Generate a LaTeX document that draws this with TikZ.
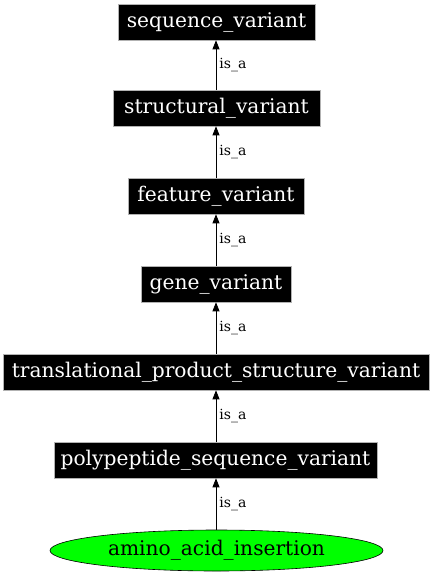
\documentclass[tikz,border=0pt]{standalone}
\usepackage{fontspec}
\setmainfont{DejaVu Serif}
\usetikzlibrary{arrows.meta,shapes.geometric}
\begin{document}
\begin{tikzpicture}[x=1pt,y=-1pt,
  termbox/.style={fill=black,draw=gray!60,line width=0.6pt,text=white,inner sep=0pt,minimum height=36pt,font=\fontsize{20.2}{22}\selectfont},
  leaf/.style={ellipse,fill=green,draw=black,line width=0.6pt,inner sep=0pt,minimum width=333pt,minimum height=41pt,font=\fontsize{20.2}{22}\selectfont},
  isa/.style={-{Triangle[length=9pt,width=7pt]},line width=0.7pt},
  lbl/.style={right,font=\fontsize{14}{16}\selectfont,inner sep=3pt}]
\useasboundingbox (0,0) rectangle (432,576);
\node[termbox,minimum width=197pt] (sv) at (216.5,22) {sequence\_variant};
\node[termbox,minimum width=207pt] (stv) at (216.5,108) {structural\_variant};
\node[termbox,minimum width=176pt] (fv) at (216,196) {feature\_variant};
\node[termbox,minimum width=150pt] (gv) at (216,284) {gene\_variant};
\node[termbox,minimum width=426pt] (tpsv) at (216,372) {translational\_product\_structure\_variant};
\node[termbox,minimum width=323pt] (psv) at (215.5,460) {polypeptide\_sequence\_variant};
\node[leaf] (aai) at (216.5,550.5) {amino\_acid\_insertion};
\draw[isa] (stv.north -| 216,0) -- node[lbl]{is\_a} (sv.south -| 216,0);
\draw[isa] (fv.north -| 216,0) -- node[lbl]{is\_a} (stv.south -| 216,0);
\draw[isa] (gv.north -| 216,0) -- node[lbl]{is\_a} (fv.south -| 216,0);
\draw[isa] (tpsv.north -| 216,0) -- node[lbl]{is\_a} (gv.south -| 216,0);
\draw[isa] (psv.north -| 216,0) -- node[lbl]{is\_a} (tpsv.south -| 216,0);
\draw[isa] (aai.north -| 216,0) -- node[lbl]{is\_a} (psv.south -| 216,0);
\end{tikzpicture}
\end{document}
